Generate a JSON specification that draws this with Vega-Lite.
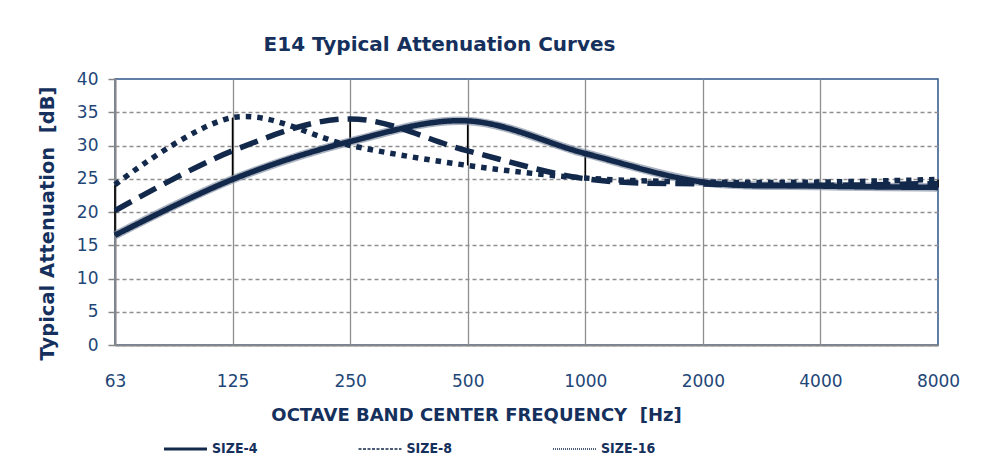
{
  "$schema": "https://vega.github.io/schema/vega-lite/v6.json",
  "autosize": {"type": "none"},
  "width": 823,
  "height": 266,
  "padding": {"left": 115, "top": 79, "right": 49, "bottom": 127},
  "background": "white",
  "title": {
    "text": "E14 Typical Attenuation Curves",
    "anchor": "middle",
    "frame": "group",
    "dx": -87,
    "dy": 28,
    "offset": 27,
    "baseline": "alphabetic",
    "font": "DejaVu Sans",
    "fontSize": 20,
    "fontWeight": "bold",
    "color": "#15305C"
  },
  "config": {
    "view": {"stroke": "#2E5489", "strokeWidth": 1.5},
    "axis": {
      "labelFont": "DejaVu Sans",
      "labelFontSize": 17,
      "labelColor": "#1E4677",
      "titleFont": "DejaVu Sans",
      "titleColor": "#15305C",
      "titleFontWeight": "bold",
      "domainColor": "#878787",
      "domainWidth": 2
    },
    "axisY": {
      "title": "Typical Attenuation \u00a0[dB]",
      "titleFontSize": 19.5,
      "titlePadding": 19,
      "titleY": 144,
      "values": [0, 5, 10, 15, 20, 25, 30, 35, 40],
      "labelOverlap": false,
      "labelPadding": 10,
      "tickColor": "#878787",
      "tickSize": 7,
      "tickWidth": 1.5,
      "grid": true,
      "gridDash": [4, 3],
      "gridColor": {"condition": {"test": "datum.value == 40", "value": "transparent"}, "value": "#8F8F8F"},
      "gridWidth": 1.3
    }
  },
  "resolve": {"scale": {"strokeDash": "independent"}, "legend": {"strokeDash": "independent"}},
  "data": {
    "values": [
      {"freq": 63, "series": "SIZE-4", "value": 16.5},
      {"freq": 125, "series": "SIZE-4", "value": 24.9},
      {"freq": 250, "series": "SIZE-4", "value": 30.6},
      {"freq": 500, "series": "SIZE-4", "value": 33.7},
      {"freq": 1000, "series": "SIZE-4", "value": 28.8},
      {"freq": 2000, "series": "SIZE-4", "value": 24.5},
      {"freq": 4000, "series": "SIZE-4", "value": 23.9},
      {"freq": 8000, "series": "SIZE-4", "value": 23.7},
      {"freq": 63, "series": "SIZE-8", "value": 20.2},
      {"freq": 125, "series": "SIZE-8", "value": 29.2},
      {"freq": 250, "series": "SIZE-8", "value": 34.0},
      {"freq": 500, "series": "SIZE-8", "value": 29.2},
      {"freq": 1000, "series": "SIZE-8", "value": 25.0},
      {"freq": 2000, "series": "SIZE-8", "value": 24.2},
      {"freq": 4000, "series": "SIZE-8", "value": 24.0},
      {"freq": 8000, "series": "SIZE-8", "value": 24.3},
      {"freq": 63, "series": "SIZE-16", "value": 24.1},
      {"freq": 125, "series": "SIZE-16", "value": 34.2},
      {"freq": 250, "series": "SIZE-16", "value": 30.0},
      {"freq": 500, "series": "SIZE-16", "value": 27.0},
      {"freq": 1000, "series": "SIZE-16", "value": 25.1},
      {"freq": 2000, "series": "SIZE-16", "value": 24.5},
      {"freq": 4000, "series": "SIZE-16", "value": 24.5},
      {"freq": 8000, "series": "SIZE-16", "value": 24.9}
    ]
  },
  "encoding": {
    "x": {
      "field": "freq",
      "type": "ordinal",
      "scale": {"type": "point", "padding": 0},
      "axis": {
        "title": "OCTAVE BAND CENTER FREQUENCY \u00a0[Hz]",
        "titleFontSize": 18,
        "titleX": 361,
        "titleY": 75,
        "titleBaseline": "alphabetic",
        "labelAngle": 0,
        "labelPadding": 28,
        "labelBaseline": "top",
        "ticks": false,
        "grid": true,
        "gridColor": {"condition": {"test": "datum.value == 8000", "value": "transparent"}, "value": "#8F8F8F"},
        "gridWidth": 1.3
      }
    }
  },
  "layer": [
    {
      "transform": [
        {"aggregate": [{"op": "min", "field": "value", "as": "lo"}, {"op": "max", "field": "value", "as": "hi"}], "groupby": ["freq"]}
      ],
      "mark": {"type": "rule", "color": "#000000", "strokeWidth": 1.6},
      "encoding": {
        "y": {"field": "lo", "type": "quantitative", "scale": {"domain": [0, 40]}, "title": "Typical Attenuation \u00a0[dB]"},
        "y2": {"field": "hi"}
      }
    },
    {
      "transform": [{"filter": "datum.series == 'SIZE-4'"}],
      "mark": {"type": "line", "interpolate": "cardinal", "stroke": "#7E8BA0", "strokeWidth": 8.5, "opacity": 0.65},
      "encoding": {
        "y": {"field": "value", "type": "quantitative", "title": "Typical Attenuation \u00a0[dB]"}
      }
    },
    {
      "mark": {"type": "line", "interpolate": "cardinal", "stroke": "#13294B", "strokeWidth": 5.5, "strokeCap": "butt"},
      "encoding": {
        "y": {"field": "value", "type": "quantitative", "title": "Typical Attenuation \u00a0[dB]"},
        "strokeDash": {
          "field": "series",
          "type": "nominal",
          "scale": {"domain": ["SIZE-4", "SIZE-8", "SIZE-16"], "range": [[1, 0], [19, 9], [5.5, 6]]},
          "legend": null
        }
      }
    },
    {
      "transform": [{"filter": "datum.freq == 63"}],
      "mark": {"type": "line", "stroke": "#13294B", "strokeWidth": 1.4},
      "encoding": {
        "y": {"field": "value", "type": "quantitative", "title": "Typical Attenuation \u00a0[dB]"},
        "strokeDash": {
          "field": "series",
          "type": "nominal",
          "scale": {"domain": ["SIZE-4", "SIZE-8", "SIZE-16"], "range": [[1, 0], [3, 1.5], [1, 1]]},
          "legend": {
            "title": null,
            "orient": "none",
            "legendX": 63.5,
            "legendY": 363,
            "direction": "horizontal",
            "columns": 3,
            "gridAlign": "all",
            "columnPadding": 88.5,
            "symbolType": "stroke",
            "symbolSize": 1849,
            "symbolStrokeColor": "#13294B",
            "labelFont": "DejaVu Sans Condensed, DejaVu Sans",
            "labelFontSize": 14,
            "labelFontWeight": "bold",
            "labelColor": "#15305C",
            "labelOffset": 19.5,
            "encode": {
              "symbols": {
                "update": {
                  "strokeWidth": {"signal": "datum.value == 'SIZE-4' ? 3 : 1.4"}
                }
              }
            }
          }
        }
      }
    }
  ]
}
